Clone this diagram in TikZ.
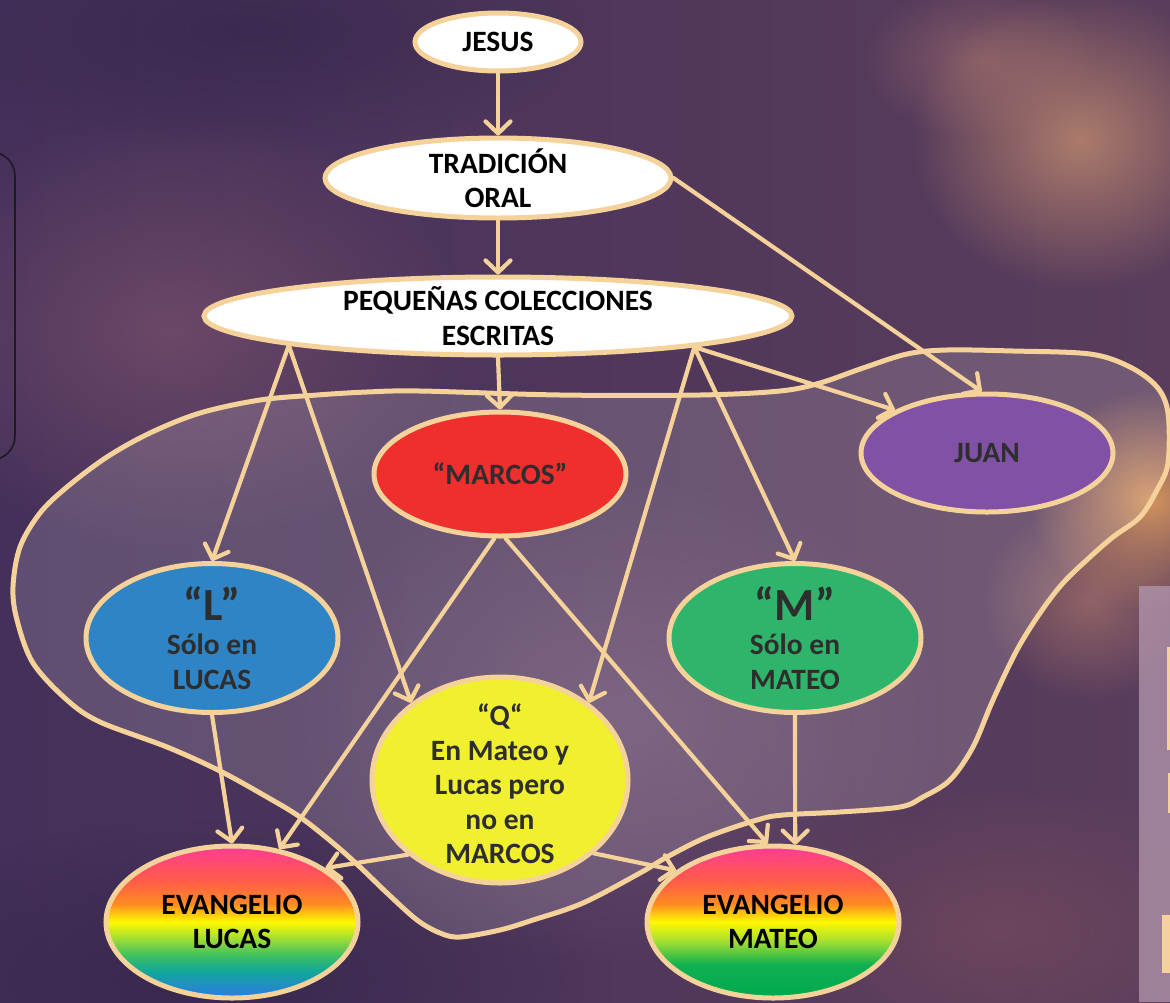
\documentclass[tikz,border=0pt]{standalone}
\usepackage{fontspec}
\setmainfont{Carlito}
\usetikzlibrary{arrows.meta,shapes.geometric,fadings}

\definecolor{peach}{HTML}{F6D29B}
\definecolor{bgL}{HTML}{44305A}
\definecolor{bgR}{HTML}{5A3D5C}
\definecolor{redM}{HTML}{EF2F2E}
\definecolor{purJ}{HTML}{8151A6}
\definecolor{bluL}{HTML}{2F84C5}
\definecolor{grnM}{HTML}{2EB56B}
\definecolor{yelQ}{HTML}{F1F02F}
\definecolor{txtD}{HTML}{2E2E2E}
\definecolor{rbBlue}{HTML}{2D78E8}
\definecolor{rbTeal}{HTML}{12A898}
\definecolor{rbGreen}{HTML}{3CC060}
\definecolor{rbYG}{HTML}{A8E030}
\definecolor{rbYel}{HTML}{FFF800}
\definecolor{rbOr}{HTML}{FF8A22}
\definecolor{rbRed}{HTML}{FF5A4A}
\definecolor{rbMag}{HTML}{FF3C96}
\definecolor{rbG2}{HTML}{10B050}
\definecolor{rbG3}{HTML}{00A850}
\definecolor{gPink}{HTML}{8A5A72}
\definecolor{gDark}{HTML}{2E2145}
\definecolor{gTan}{HTML}{C89070}
\definecolor{gRose}{HTML}{B07A70}
\definecolor{gOrange}{HTML}{F0A860}
\definecolor{gSalmon}{HTML}{C88A70}
\definecolor{gWine}{HTML}{7E4E5E}
\definecolor{gLav}{HTML}{8A6A88}
\definecolor{frameC}{HTML}{1E1A24}
\definecolor{panelC}{HTML}{B497AE}

\pgfdeclareverticalshading{rainbowL}{100bp}{%
  color(0bp)=(rbBlue);
  color(25bp)=(rbBlue);
  color(34bp)=(rbTeal);
  color(39bp)=(rbGreen);
  color(45bp)=(rbYG);
  color(50bp)=(rbYel);
  color(56bp)=(rbOr);
  color(64bp)=(rbRed);
  color(75bp)=(rbMag);
  color(100bp)=(rbMag)}
\pgfdeclareverticalshading{rainbowM}{100bp}{%
  color(0bp)=(rbG3);
  color(25bp)=(rbG3);
  color(36bp)=(rbG2);
  color(44bp)=(rbYG);
  color(50bp)=(rbYel);
  color(56bp)=(rbOr);
  color(64bp)=(rbRed);
  color(75bp)=(rbMag);
  color(100bp)=(rbMag)}

\tikzfading[name=softglow, inner color=transparent!0, outer color=transparent!100]

\tikzset{
  oval/.style={ellipse, draw=peach, line width=5pt, inner sep=0pt},
  lbl/.style={align=center, font=\bfseries\fontsize{29.5}{34.5}\selectfont, inner sep=0pt},
  conn/.style={draw=peach, line width=4.2pt, line cap=round, line join=round,
    -{Straight Barb[length=12pt,width=25pt,line cap=round,line join=round]}},
  blobline/.style={draw=peach, line width=5pt, line join=round},
  glow/.style={path fading=softglow},
}

\begin{document}
\begin{tikzpicture}[x=1pt,y=-1pt]
\useasboundingbox (0,0) rectangle (1170,1002);
% background
\shade[left color=bgL, right color=bgR] (0,0) rectangle (1170,1002);
\fill[glow, gPink, opacity=0.55] (170,330) ellipse (300 and 220);
\fill[glow, gDark, opacity=0.6] (220,980) ellipse (380 and 160);
\fill[glow, gDark, opacity=0.5] (250,30) ellipse (350 and 120);
\fill[glow, gTan, opacity=0.75] (1080,140) ellipse (170 and 150);
\fill[glow, gRose, opacity=0.50] (980,60) ellipse (120 and 80);
\fill[glow, gOrange, opacity=0.80] (1150,500) ellipse (120 and 110);
\fill[glow, gSalmon, opacity=0.50] (1090,600) ellipse (110 and 100);
\fill[glow, gWine, opacity=0.55] (1000,930) ellipse (260 and 150);
\fill[glow, gLav, opacity=0.40] (620,720) ellipse (330 and 250);
% left frame piece
\draw[frameC, line width=1.6pt, rounded corners=24pt] (-60,152) rectangle (15,460);
% right panel piece
\fill[panelC, opacity=0.75] (1139,586) rectangle (1170,1002);
\fill[peach] (1167,647) rectangle (1170,750);
\fill[peach] (1168,773) rectangle (1170,813);
\fill[peach] (1162,915) rectangle (1170,973);

% blob
\path[fill=white, fill opacity=0.15, blobline] plot[smooth cycle, tension=0.55] coordinates {
 (420,391) (560,395) (700,395) (780,391) (820,383) (863,368) (907,354) (947,350)
 (1013,351) (1090,354) (1130,367) (1157,387) (1168,413) (1168,463) (1157,490)
 (1140,517) (1113,537) (1090,557) (1063,583) (1040,613) (1017,650) (993,700)
 (973,747) (950,780) (923,797) (900,807) (840,812) (783,815) (757,820) (707,837)
 (667,857) (640,873) (583,903) (533,920) (500,930) (460,937) (440,933) (417,920)
 (387,893) (360,867) (333,843) (300,817) (267,797) (220,771) (167,747) (100,722)
 (67,700) (33,663) (17,620) (13,587) (20,547) (40,513) (67,487) (107,457)
 (150,433) (200,413) (260,400) (317,395) (367,392)};

% nodes (shapes)
\node[oval, fill=white, minimum width=166pt, minimum height=58pt] (jesus) at (498,42) {};
\node[oval, fill=white, minimum width=346pt, minimum height=80pt] (trad) at (498,178) {};
\node[oval, fill=white, minimum width=588pt, minimum height=78pt] (pq) at (498,316) {};
\node[oval, fill=redM, minimum width=252pt, minimum height=124pt] (marcos) at (500,474) {};
\node[oval, fill=purJ, minimum width=252pt, minimum height=118pt] (juan) at (987,453) {};
\node[oval, fill=bluL, minimum width=252pt, minimum height=149pt] (l) at (212,638) {};
\node[oval, fill=grnM, minimum width=252pt, minimum height=149pt] (m) at (795,638) {};
\node[oval, fill=yelQ, minimum width=256pt, minimum height=206pt] (q) at (500,780) {};
\node[oval, shading=rainbowL, minimum width=252pt, minimum height=152pt] (evl) at (232,922) {};
\node[oval, shading=rainbowM, minimum width=252pt, minimum height=152pt] (evm) at (773,922) {};

% connectors
\path[conn] (jesus.south) -- (trad.north);
\path[conn] (trad.south) -- (pq.north);
\path[conn] (trad.east) -- (juan.95);
\path[conn] (pq.south) -- (marcos.north);
\path[conn] (pq.188) -- (l.north);
\path[conn] (pq.188) -- (q.139);
\path[conn] (pq.351) -- (q.41);
\path[conn] (pq.351) -- (m.north);
\path[conn] (pq.351) -- (juan.155);
\path[conn] (marcos.265) -- (evl.57);
\path[conn] (marcos.275) -- (evm.94);
\path[conn] (l.south) -- (evl.north);
\path[conn] (m.south) -- (evm.74);
\path[conn] (q.219) -- (evl.30);
\path[conn] (q.322) -- (evm.152);

% labels
\node[lbl] (tjesus) at (jesus.center) {JESUS};
\node[lbl] (ttrad) at (trad.center) {TRADICIÓN\\ORAL};
\node[lbl] (tpq) at (pq.center) {PEQUEÑAS COLECCIONES\\ESCRITAS};
\node[lbl, text=txtD] (tmarcos) at (marcos.center) {“MARCOS”};
\node[lbl, text=txtD] (tjuan) at (juan.center) {JUAN};
\node[lbl, text=txtD] (tl) at (l.center) {{\fontsize{46}{40}\selectfont “L”}\\Sólo en\\LUCAS};
\node[lbl, text=txtD] (tm) at (m.center) {{\fontsize{46}{40}\selectfont “M”}\\Sólo en\\MATEO};
\node[lbl, text=txtD] (tq) at ([yshift=-4pt]q.center) {“Q“\\En Mateo y\\Lucas pero\\no en\\MARCOS};
\node[lbl, text=black] (tevl) at (evl.center) {EVANGELIO\\LUCAS};
\node[lbl, text=black] (tevm) at (evm.center) {EVANGELIO\\MATEO};
\end{tikzpicture}
\end{document}
